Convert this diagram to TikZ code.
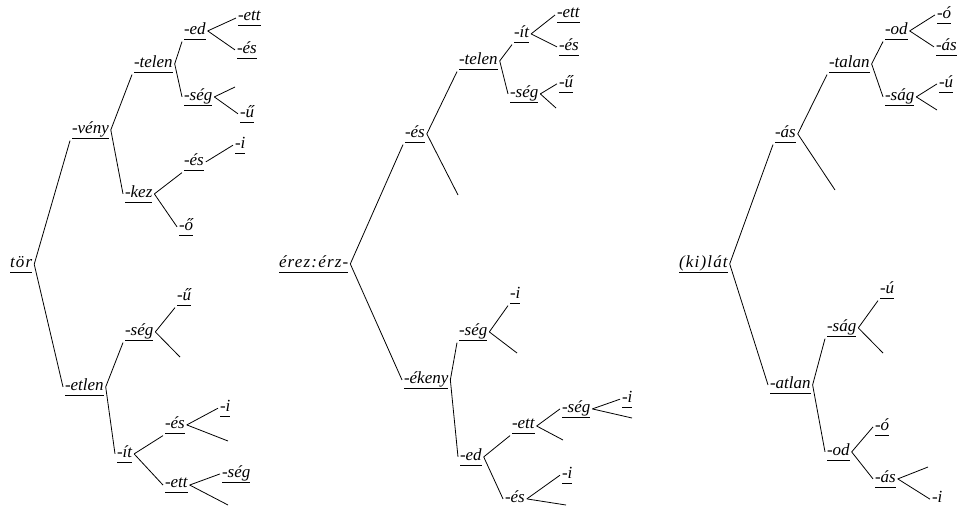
\documentclass[tikz,border=0pt]{standalone}
\usepackage{fontspec}
\setmainfont{Liberation Serif}
\newcommand{\sfx}[1]{\underline{#1\vphantom{g}}}
\tikzset{
  lbl/.style={font=\fontsize{17}{20}\selectfont\itshape, inner sep=0pt, outer sep=2pt, anchor=base west},
  rootlbl/.style={lbl, font=\fontsize{17}{20}\selectfont\itshape\addfontfeature{LetterSpace=7}},
  every edge/.style={draw, line width=0.8pt}
}
\begin{document}
\begin{tikzpicture}[x=1pt,y=-1pt]
  \useasboundingbox (0,0) rectangle (957,506);
  % tree 1
  \node[rootlbl] (t1) at (8,267) {\sfx{tör}};
  \node[lbl] (t1a) at (70,133) {\sfx{-vény}};
  \node[lbl] (t1aa) at (132,67) {\sfx{-telen}};
  \node[lbl] (t1aaa) at (182,34) {\sfx{-ed}};
  \node[lbl] (t1aaaa) at (236,20) {\sfx{-ett}};
  \node[lbl] (t1aaab) at (235,53) {\sfx{-és}};
  \node[lbl] (t1aab) at (182,100) {\sfx{-ség}};
  \coordinate (t1aaba) at (235,87);
  \node[lbl] (t1aabb) at (238,117) {\sfx{-ű}};
  \node[lbl] (t1ab) at (123,197) {\sfx{-kez}};
  \node[lbl] (t1aba) at (182,165) {\sfx{-és}};
  \node[lbl] (t1abaa) at (233,148) {\sfx{-i}};
  \node[lbl] (t1abb) at (177,230) {\sfx{-ő}};
  \node[lbl] (t1b) at (63,390) {\sfx{-etlen}};
  \node[lbl] (t1ba) at (123,335) {\sfx{-ség}};
  \node[lbl] (t1baa) at (175,300) {\sfx{-ű}};
  \coordinate (t1bab) at (180,357);
  \node[lbl] (t1bb) at (115,457) {\sfx{-ít}};
  \node[lbl] (t1bba) at (163,428) {\sfx{-és}};
  \node[lbl] (t1bbaa) at (218,411) {\sfx{-i}};
  \coordinate (t1bbab) at (228,441);
  \node[lbl] (t1bbb) at (163,487) {\sfx{-ett}};
  \node[lbl] (t1bbba) at (220,477) {\sfx{-ség}};
  \coordinate (t1bbbb) at (228,505);
  % tree 2
  \node[rootlbl] (t2) at (277,267) {\sfx{érez:érz-}};
  \node[lbl] (t2a) at (403,137) {\sfx{-és}};
  \node[lbl] (t2aa) at (457,64) {\sfx{-telen}};
  \node[lbl] (t2aaa) at (512,37) {\sfx{-ít}};
  \node[lbl] (t2aaaa) at (555,17) {\sfx{-ett}};
  \node[lbl] (t2aaab) at (557,50) {\sfx{-és}};
  \node[lbl] (t2aab) at (508,97) {\sfx{-ség}};
  \node[lbl] (t2aaba) at (557,87) {\sfx{-ű}};
  \coordinate (t2aabb) at (556,108);
  \coordinate (t2ab) at (458,195);
  \node[lbl] (t2b) at (402,383) {\sfx{-ékeny}};
  \node[lbl] (t2ba) at (457,335) {\sfx{-ség}};
  \node[lbl] (t2baa) at (508,298) {\sfx{-i}};
  \coordinate (t2bab) at (517,353);
  \node[lbl] (t2bb) at (458,460) {\sfx{-ed}};
  \node[lbl] (t2bba) at (510,428) {\sfx{-ett}};
  \node[lbl] (t2bbaa) at (560,412) {\sfx{-ség}};
  \node[lbl] (t2bbaaa) at (620,402) {\sfx{-i}};
  \coordinate (t2bbaab) at (632,418);
  \coordinate (t2bbab) at (563,440);
  \node[lbl] (t2bbb) at (503,502) {\sfx{-és}};
  \node[lbl] (t2bbba) at (560,478) {\sfx{-i}};
  \coordinate (t2bbbb) at (566,505);
  % tree 3
  \node[rootlbl] (t3) at (677,267) {\sfx{(ki)lát}};
  \node[lbl] (t3a) at (773,137) {\sfx{-ás}};
  \node[lbl] (t3aa) at (827,67) {\sfx{-talan}};
  \node[lbl] (t3aaa) at (883,34) {\sfx{-od}};
  \node[lbl] (t3aaaa) at (935,18) {\sfx{-ó}};
  \node[lbl] (t3aaab) at (934,50) {\sfx{-ás}};
  \node[lbl] (t3aab) at (883,100) {\sfx{-ság}};
  \node[lbl] (t3aaba) at (937,87) {\sfx{-ú}};
  \coordinate (t3aabb) at (937,110);
  \coordinate (t3ab) at (835,190);
  \node[lbl] (t3b) at (768,388) {\sfx{-atlan}};
  \node[lbl] (t3ba) at (825,331) {\sfx{-ság}};
  \node[lbl] (t3baa) at (878,293) {\sfx{-ú}};
  \coordinate (t3bab) at (883,353);
  \node[lbl] (t3bb) at (825,455) {\sfx{-od}};
  \node[lbl] (t3bba) at (873,430) {\sfx{-ó}};
  \node[lbl] (t3bbb) at (873,482) {\sfx{-ás}};
  \coordinate (t3bbba) at (928,467);
  \node[lbl] (t3bbbb) at (930,502) {\sfx{-i}};

  \path
  (t1.east) edge (t1a.south west) (t1.east) edge (t1b.west)
  (t1a.east) edge (t1aa.south west) (t1a.east) edge (t1ab.west)
  (t1aa.east) edge (t1aaa.south west) (t1aa.east) edge (t1aab.west)
  (t1aaa.east) edge (t1aaaa.west) (t1aaa.east) edge (t1aaab.west)
  (t1aab.east) edge (t1aaba) (t1aab.east) edge (t1aabb.west)
  (t1ab.east) edge (t1aba.south west) (t1ab.east) edge (t1abb.west)
  (t1aba.east) edge (t1abaa.west)
  (t1b.east) edge (t1ba.south west) (t1b.east) edge (t1bb.west)
  (t1ba.east) edge (t1baa.south west) (t1ba.east) edge (t1bab)
  (t1bb.east) edge (t1bba.south west) (t1bb.east) edge (t1bbb.west)
  (t1bba.east) edge (t1bbaa.west) (t1bba.east) edge (t1bbab)
  (t1bbb.east) edge (t1bbba.west) (t1bbb.east) edge (t1bbbb);
  \path
  (t2.east) edge (t2a.south west) (t2.east) edge (t2b.west)
  (t2a.east) edge (t2aa.south west) (t2a.east) edge (t2ab)
  (t2aa.east) edge (t2aaa.south west) (t2aa.east) edge (t2aab.west)
  (t2aaa.east) edge (t2aaaa.west) (t2aaa.east) edge (t2aaab.west)
  (t2aab.east) edge (t2aaba.west) (t2aab.east) edge (t2aabb)
  (t2b.east) edge (t2ba.south west) (t2b.east) edge (t2bb.west)
  (t2ba.east) edge (t2baa.south west) (t2ba.east) edge (t2bab)
  (t2bb.east) edge (t2bba.south west) (t2bb.east) edge (t2bbb.west)
  (t2bba.east) edge (t2bbaa.west) (t2bba.east) edge (t2bbab)
  (t2bbaa.east) edge (t2bbaaa.west) (t2bbaa.east) edge (t2bbaab)
  (t2bbb.east) edge (t2bbba.west) (t2bbb.east) edge (t2bbbb);
  \path
  (t3.east) edge (t3a.south west) (t3.east) edge (t3b.west)
  (t3a.east) edge (t3aa.south west) (t3a.east) edge (t3ab)
  (t3aa.east) edge (t3aaa.south west) (t3aa.east) edge (t3aab.west)
  (t3aaa.east) edge (t3aaaa.west) (t3aaa.east) edge (t3aaab.west)
  (t3aab.east) edge (t3aaba.west) (t3aab.east) edge (t3aabb)
  (t3b.east) edge (t3ba.south west) (t3b.east) edge (t3bb.west)
  (t3ba.east) edge (t3baa.south west) (t3ba.east) edge (t3bab)
  (t3bb.east) edge (t3bba.west) (t3bb.east) edge (t3bbb.west)
  (t3bbb.east) edge (t3bbba) (t3bbb.east) edge (t3bbbb.west);
\end{tikzpicture}
\end{document}
